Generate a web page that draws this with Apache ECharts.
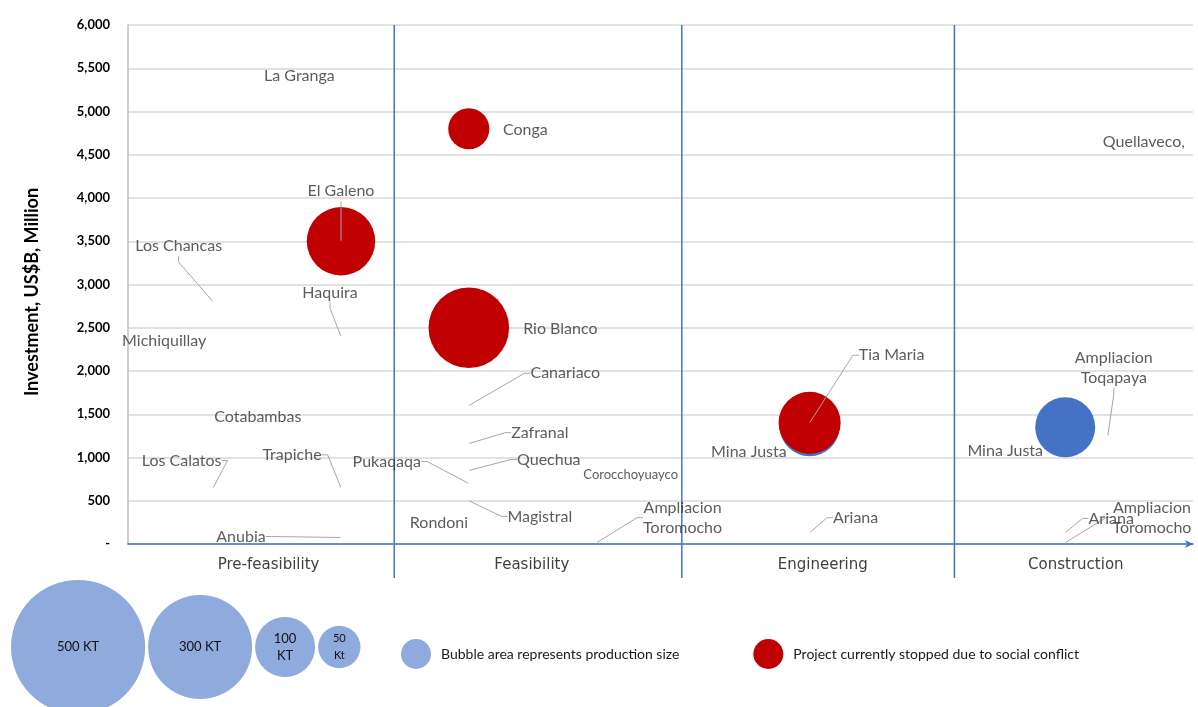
<!DOCTYPE html>
<html>
<head>
<meta charset="utf-8">
<script src="https://cdn.jsdelivr.net/npm/echarts@6/dist/echarts.min.js"></script>
<style>html,body{margin:0;padding:0;background:#fff}#c{width:1198px;height:707px}</style>
</head>
<body>
<div id="c"></div>
<script>
// ---------------- DATA ----------------
const stages = ['Pre-feasibility', 'Feasibility', 'Engineering', 'Construction'];
const yTicks = [0, 500, 1000, 1500, 2000, 2500, 3000, 3500, 4000, 4500, 5000, 5500, 6000];

const projects = ['La Granga', 'El Galeno', 'Los Chancas', 'Haquira', 'Michiquillay', 'Cotabambas',
  'Los Calatos', 'Trapiche', 'Anubia', 'Rondoni', 'Pukaqaqa', 'Conga', 'Rio Blanco', 'Canariaco',
  'Zafranal', 'Quechua', 'Magistral', 'Corocchoyuayco', 'Ampliacion\nToromocho', 'Tia Maria',
  'Mina Justa', 'Ariana', 'Mina Justa', 'Ariana', 'Ampliacion\nToromocho', 'Ampliacion\nToqapaya', 'Quellaveco,'];
const stagePosition = [4, 5, 2, 5, 0.85, 3, 2, 5, 5, 7.3, 8, 8, 8, 8, 8, 8, 8, 11.8, 11, 16, 16, 16, 22, 22, 22, 23, 23.8];
const investment = [5400, 3500, 2800, 2400, 2350, 1475, 650, 650, 75, 250, 700, 4800, 2500, 1600, 1160, 850, 500, 800, 15, 1400, 1360, 130, 1350, 130, 15, 1250, 4650];
const productionKT = [0, 130, 0, 0, 0, 0, 0, 0, 0, 0, 0, 47, 180, 0, 0, 0, 0, 0, 0, 107, 100, 0, 100, 0, 0, 0, 0];
const stoppedBySocialConflict = [0, 1, 0, 0, 0, 0, 0, 0, 0, 0, 0, 1, 1, 0, 0, 0, 0, 0, 0, 1, 0, 0, 0, 0, 0, 0, 0];

const keySizesKT = [500, 300, 100, 50];
const keyLabels = ['500 KT', '300 KT', '100\nKT', '50\nKt'];

// ---------------- LAYOUT (not data) ----------------
const stageBoundaries = [6.25, 13, 19.4];
const stageLabelAt = [3.3, 9.48, 16.31, 22.25];
const labelDx = [1, 0, -34.5, -11, 0, 2, -31.5, -49, -100, 0, -82, 56.5, 91.5, 96.5, 71, 80, 71, 0, 86, 82, -60.7, 46, -60, 46, 86.7, 6, 2];
const labelDy = [-1, -50, -55.6, -44, 0, 0, -27.4, -33, -1, 0, -22, 1.3, 1.5, -32.3, -11, -11, 15.6, 0, -25, -67.6, 25, -15, 24, -14.4, -25.3, -67.6, 0];
const leader =  [0, 1, 1, 1, 0, 0, 1, 1, 1, 0, 1, 0, 0, 1, 1, 1, 1, 0, 1, 1, 0, 1, 0, 1, 1, 1, 0];
const labelFont = projects.map(n => n === 'Corocchoyuayco' ? 13 : 16);
const SIZE_K = 6; // px diameter per sqrt(KT)

const BLUE_NAME = 'Bubble area represents production size';
const RED_NAME = 'Project currently stopped due to social conflict';

const blueData = [], redData = [];
projects.forEach((n, i) => {
  if (productionKT[i] > 0) {
    (stoppedBySocialConflict[i] ? redData : blueData).push([stagePosition[i], investment[i], productionKT[i], n]);
  }
});
const labelData = projects.map((n, i) => ({
  name: n,
  value: [stagePosition[i], investment[i]],
  labelLine: { show: leader[i] === 1 },
  label: { fontSize: labelFont[i] }
}));

const keyX = [];
let edge = 11;
keySizesKT.forEach(v => { const d = SIZE_K * Math.sqrt(v); keyX.push(edge + d / 2); edge += d + 3; });
const keyData = keySizesKT.map((v, i) => ({ name: keyLabels[i], value: [keyX[i], 0.5, v], label: { fontSize: v < 100 ? 11 : 13 } }));

const chart = echarts.init(document.getElementById('c'), null, { renderer: 'canvas' });
const FONT = 'Lato';
chart.setOption({
  animation: false,
  backgroundColor: '#fff',
  textStyle: { fontFamily: FONT },
  grid: [
    { left: 128, right: 5, top: 25, bottom: 163 },
    { left: 0, right: 0, top: 587, bottom: 0 }
  ],
  legend: {
    data: [{ name: BLUE_NAME, itemStyle: { color: '#8FAADC' } }, { name: RED_NAME }],
    left: 396, top: 634,
    icon: 'circle', itemWidth: 40, itemHeight: 30, itemGap: 74,
    textStyle: { fontFamily: FONT, fontSize: 14, color: '#1a1a1a' },
    selectedMode: false
  },
  xAxis: [
    {
      type: 'value', min: 0, max: 25, gridIndex: 0,
      axisLine: { show: true, onZero: true, lineStyle: { color: '#4472C4', width: 1.5 }, symbol: ['none', 'arrow'], symbolSize: [6, 8] },
      axisTick: { show: false },
      splitLine: { show: false },
      axisLabel: {
        customValues: stageLabelAt,
        formatter: v => stages[stageLabelAt.indexOf(v)] || '',
        color: '#404040', fontFamily: 'DejaVu Sans', fontSize: 15, margin: 14
      }
    },
    { type: 'value', min: 0, max: 1198, gridIndex: 1, show: false }
  ],
  yAxis: [
    {
      type: 'value', min: 0, max: 6000, interval: 500, gridIndex: 0,
      axisLine: { show: true, lineStyle: { color: '#bfbfbf', width: 1.5 } },
      axisTick: { show: false },
      splitLine: { show: true, lineStyle: { color: '#d9d9d9', width: 1.5 } },
      axisLabel: {
        formatter: v => v === 0 ? '-' : v.toLocaleString('en-US'),
        color: '#000', fontWeight: 'bold', fontSize: 13, fontFamily: FONT, margin: 18
      },
      name: 'Investment, US$B, Million',
      nameLocation: 'middle', nameGap: 87,
      nameTextStyle: { color: '#000', fontSize: 18, fontWeight: 'bold', fontFamily: FONT, padding: [0, 15, 0, 0] }
    },
    { type: 'value', min: 0, max: 1, gridIndex: 1, show: false }
  ],
  series: [
    {
      type: 'custom', name: 'stageBoundaries', silent: true,
      xAxisIndex: 0, yAxisIndex: 0,
      data: stageBoundaries.map(v => [v, 0]),
      renderItem: (params, api) => {
        const x = api.value(0);
        const p0 = api.coord([x, 6000]);
        const p1 = api.coord([x, 0]);
        return { type: 'line', shape: { x1: p0[0], y1: p0[1], x2: p1[0], y2: p1[1] + 34 },
                 style: { stroke: '#4472C4', lineWidth: 1.5 } };
      },
      z: 1
    },
    {
      type: 'scatter', name: BLUE_NAME, xAxisIndex: 0, yAxisIndex: 0,
      data: blueData,
      symbolSize: v => SIZE_K * Math.sqrt(v[2]),
      itemStyle: { color: '#4472C4', opacity: 1 },
      z: 2
    },
    {
      type: 'scatter', name: RED_NAME, xAxisIndex: 0, yAxisIndex: 0,
      data: redData,
      symbolSize: v => SIZE_K * Math.sqrt(v[2]),
      itemStyle: { color: '#C00000', opacity: 1 },
      z: 3
    },
    {
      type: 'scatter', name: 'labels', xAxisIndex: 0, yAxisIndex: 0,
      data: labelData,
      symbolSize: 1,
      itemStyle: { color: 'rgba(0,0,0,0)' },
      silent: true,
      label: {
        show: true, position: 'inside', formatter: '{b}',
        color: '#333333', fontFamily: FONT, fontSize: 16, lineHeight: 20
      },
      labelLine: { show: false, length2: 6, lineStyle: { color: '#a6a6a6', width: 1 } },
      labelLayout: p => {
        const i = p.dataIndex;
        return {
          x: p.rect.x + p.rect.width / 2 + labelDx[i],
          y: p.rect.y + p.rect.height / 2 + labelDy[i],
          align: 'center', verticalAlign: 'middle'
        };
      },
      z: 5
    },
    {
      type: 'scatter', name: 'sizeKey', xAxisIndex: 1, yAxisIndex: 1,
      data: keyData, clip: false, silent: true,
      symbolSize: v => SIZE_K * Math.sqrt(v[2]),
      itemStyle: { color: '#8FAADC', opacity: 1 },
      label: { show: true, position: 'inside', formatter: '{b}', color: '#111', fontFamily: FONT, fontSize: 13, lineHeight: 17 }
    }
  ]
});
</script>
</body>
</html>
